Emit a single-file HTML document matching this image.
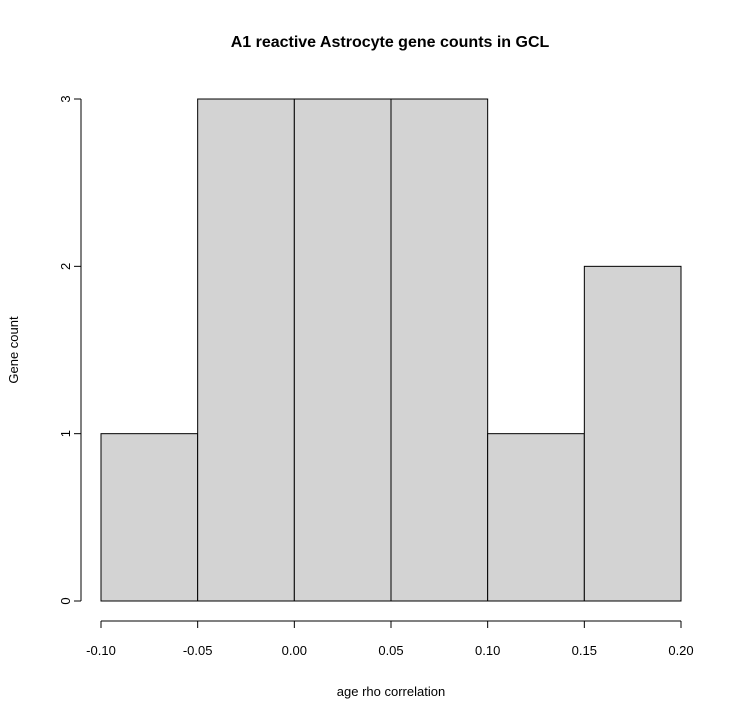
<!DOCTYPE html>
<html><head><meta charset="utf-8"><style>
body{margin:0;background:#fff}
svg text{font-family:"Liberation Sans",Arial,sans-serif;fill:#000}
</style></head><body>
<svg id="c" width="745" height="720" xmlns="http://www.w3.org/2000/svg">
<text x="390" y="47" text-anchor="middle" font-size="16" font-weight="bold">A1 reactive Astrocyte gene counts in GCL</text>
<text x="391" y="696" text-anchor="middle" font-size="13">age rho correlation</text>
<text transform="translate(18,350) rotate(-90)" text-anchor="middle" font-size="13">Gene count</text>
<g id="bars"></g><g id="xax"></g><g id="yax"></g>
</svg>
<script>
const binEdges=[-0.10,-0.05,0.00,0.05,0.10,0.15,0.20];
const counts=[1,3,3,3,1,2];
const xTicks=[-0.10,-0.05,0.00,0.05,0.10,0.15,0.20];
const xTickLabels=["-0.10","-0.05","0.00","0.05","0.10","0.15","0.20"];
const yTicks=[0,1,2,3];
const NS="http://www.w3.org/2000/svg";
function X(v){return 101+(v+0.10)/0.30*580;}
function Y(v){return 601-v*167.33;}
function mk(t,a,p){const e=document.createElementNS(NS,t);for(const k in a)e.setAttribute(k,a[k]);p.appendChild(e);return e;}
const bars=document.getElementById('bars');
counts.forEach((c,i)=>{
 const x0=X(binEdges[i]),x1=X(binEdges[i+1]);
 const r=mk('rect',{x:x0,y:Y(c),width:x1-x0,height:Y(0)-Y(c),fill:'#d3d3d3',stroke:'#000','stroke-width':1},bars);
 
 
});
const xa=document.getElementById('xax');
const xl=mk('line',{x1:X(xTicks[0]),x2:X(xTicks[xTicks.length-1]),y1:621,y2:621,stroke:'#000'},xa);


xTicks.forEach((v,i)=>{
 mk('line',{x1:X(v),x2:X(v),y1:621,y2:628,stroke:'#000'},xa);
 const t=mk('text',{x:X(v),y:655,'text-anchor':'middle','font-size':13},xa);
 t.textContent=xTickLabels[i];
 
 
});
const ya=document.getElementById('yax');
const yl=mk('line',{x1:81,x2:81,y1:Y(yTicks[0]),y2:Y(yTicks[yTicks.length-1]),stroke:'#000'},ya);


yTicks.forEach(v=>{
 mk('line',{x1:74,x2:81,y1:Y(v),y2:Y(v),stroke:'#000'},ya);
 const t=mk('text',{transform:'translate(70,'+Y(v)+') rotate(-90)','text-anchor':'middle','font-size':13},ya);
 t.textContent=String(v);
 
 
});
</script>
</body></html>
